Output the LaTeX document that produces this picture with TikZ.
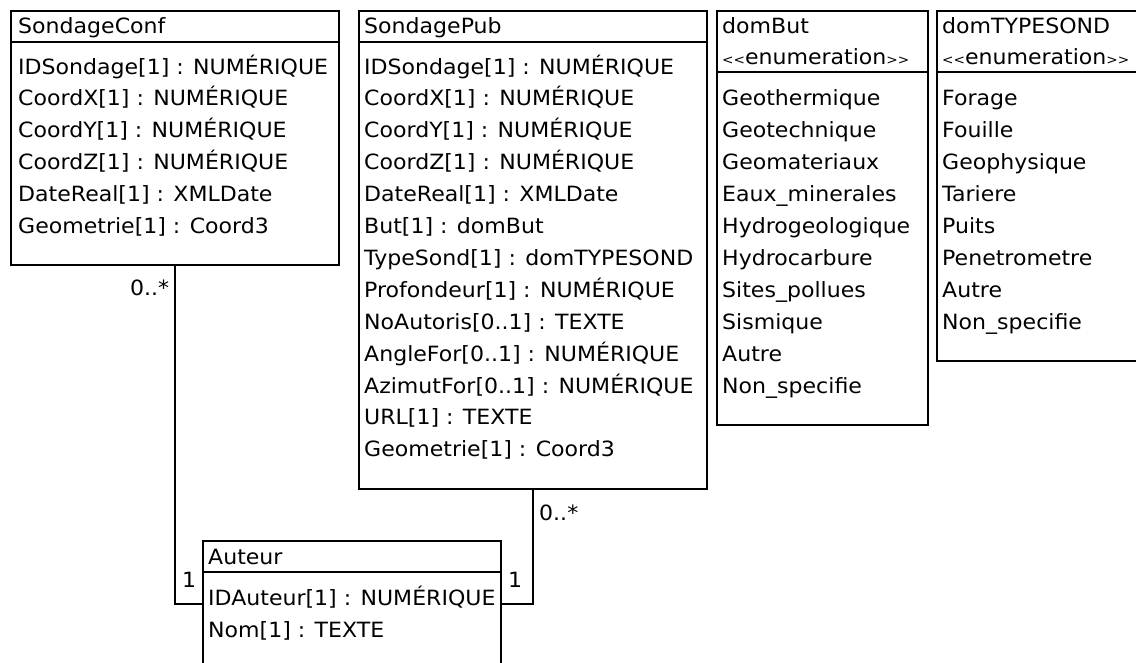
\documentclass[tikz,border=0pt]{standalone}
\usepackage{fontspec}
\setmainfont{DejaVu Sans}[FakeStretch=1.05]
\usepackage{tikz}

\begin{document}
\begin{tikzpicture}[x=1pt,y=-1pt,
  every node/.style={inner sep=0pt,anchor=base west,font=\fontsize{21}{24}\selectfont},
  classbox/.style={draw,line width=1.5pt,anchor=north west}]
\useasboundingbox (0,0) rectangle (1136,662);
\fill[white] (0,0) rectangle (1136,662);
\node[classbox,minimum width=328pt,minimum height=254pt] (SondageConf) at (10,10) {};
\node[classbox,minimum width=348pt,minimum height=478pt] (SondagePub) at (358,10) {};
\node[classbox,minimum width=211pt,minimum height=414pt] (domBut) at (716,10) {};
\node[classbox,minimum width=220pt,minimum height=350pt] (domTYPESOND) at (936,10) {};
\node[classbox,minimum width=298pt,minimum height=126pt] (Auteur) at (202,540) {};
\draw[line width=1.5pt] ([yshift=-32pt]SondageConf.north west)--([yshift=-32pt]SondageConf.north east);
\draw[line width=1.5pt] ([yshift=-32pt]SondagePub.north west)--([yshift=-32pt]SondagePub.north east);
\draw[line width=1.5pt] ([yshift=-62pt]domBut.north west)--([yshift=-62pt]domBut.north east);
\draw[line width=1.5pt] ([yshift=-62pt]domTYPESOND.north west)--([yshift=-62pt]domTYPESOND.north east);
\draw[line width=1.5pt] ([yshift=-32pt]Auteur.north west)--([yshift=-32pt]Auteur.north east);
% SondageConf
\node (SC0) at (18,33) {SondageConf};
\node (SC1) at (18,74) {IDSondage[1] : NUMÉRIQUE};
\node (SC2) at (18,105.9) {CoordX[1] : NUMÉRIQUE};
\node (SC3) at (18,137.8) {CoordY[1] : NUMÉRIQUE};
\node (SC4) at (18,169.7) {CoordZ[1] : NUMÉRIQUE};
\node (SC5) at (18,201.6) {DateReal[1] : XMLDate};
\node (SC6) at (18,233.5) {Geometrie[1] : Coord3};
% SondagePub
\node (SP0) at (364,33) {SondagePub};
\node (SP1) at (364,74) {IDSondage[1] : NUMÉRIQUE};
\node (SP2) at (364,105.9) {CoordX[1] : NUMÉRIQUE};
\node (SP3) at (364,137.8) {CoordY[1] : NUMÉRIQUE};
\node (SP4) at (364,169.7) {CoordZ[1] : NUMÉRIQUE};
\node (SP5) at (364,201.6) {DateReal[1] : XMLDate};
\node (SP6) at (364,233.5) {But[1] : domBut};
\node (SP7) at (364,265.4) {TypeSond[1] : domTYPESOND};
\node (SP8) at (364,297.3) {Profondeur[1] : NUMÉRIQUE};
\node (SP9) at (364,329.2) {NoAutoris[0..1] : TEXTE};
\node (SP10) at (364,361.1) {AngleFor[0..1] : NUMÉRIQUE};
\node (SP11) at (364,393) {AzimutFor[0..1] : NUMÉRIQUE};
\node (SP12) at (364,424.9) {URL[1] : TEXTE};
\node (SP13) at (364,456.8) {Geometrie[1] : Coord3};
% domBut
\node (DB0) at (722,33) {domBut};
\node (DB00) at (722,64) {{\fontsize{13}{14}\selectfont<{}<}enumeration{\fontsize{13}{14}\selectfont>{}>}};
\node (DB1) at (722,105.9) {Geothermique};
\node (DB2) at (722,137.8) {Geotechnique};
\node (DB3) at (722,169.7) {Geomateriaux};
\node (DB4) at (722,201.6) {Eaux\_minerales};
\node (DB5) at (722,233.5) {Hydrogeologique};
\node (DB6) at (722,265.4) {Hydrocarbure};
\node (DB7) at (722,297.3) {Sites\_pollues};
\node (DB8) at (722,329.2) {Sismique};
\node (DB9) at (722,361.1) {Autre};
\node (DB10) at (722,393) {Non\_specifie};
% domTYPESOND
\node (DT0) at (942,33) {domTYPESOND};
\node (DT00) at (942,64) {{\fontsize{13}{14}\selectfont<{}<}enumeration{\fontsize{13}{14}\selectfont>{}>}};
\node (DT1) at (942,105.9) {Forage};
\node (DT2) at (942,137.8) {Fouille};
\node (DT3) at (942,169.7) {Geophysique};
\node (DT4) at (942,201.6) {Tariere};
\node (DT5) at (942,233.5) {Puits};
\node (DT6) at (942,265.4) {Penetrometre};
\node (DT7) at (942,297.3) {Autre};
\node (DT8) at (942,329.2) {Non\_specifie};
% Auteur
\node (AU0) at (208,564) {Auteur};
\node (AU1) at (208,605) {IDAuteur[1] : NUMÉRIQUE};
\node (AU2) at (208,637) {Nom[1] : TEXTE};
% associations
\draw[line width=1.5pt] (SondageConf.south) |- (Auteur.west);
\draw[line width=1.5pt] (SondagePub.south) |- (Auteur.east);
\node (m1) at (130,295) {0..*};
\node (m2) at (182,587) {1};
\node (m3) at (508,587) {1};
\node (m4) at (539,520) {0..*};
\end{tikzpicture}
\end{document}
